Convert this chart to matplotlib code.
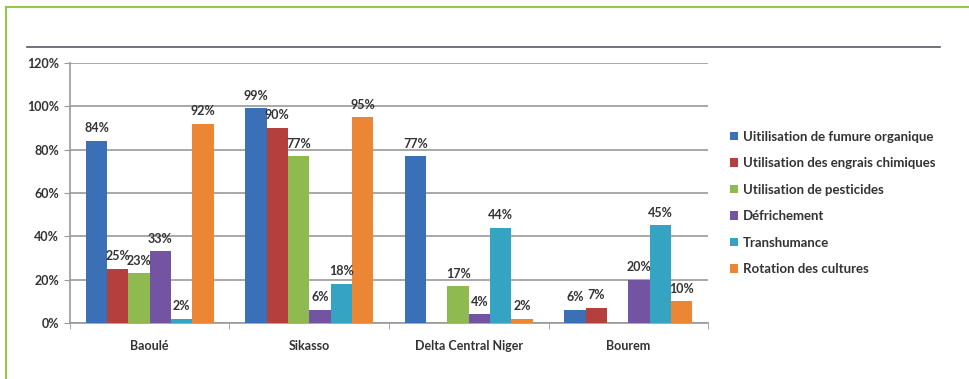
import numpy as np
import matplotlib.pyplot as plt
from matplotlib.lines import Line2D

plt.rcParams['font.family'] = ['Lato', 'DejaVu Sans']

# données (en %)
zones = ['Baoulé', 'Sikasso', 'Delta Central Niger', 'Bourem']
series = ['Uitilisation de fumure organique',
          'Utilisation des engrais chimiques',
          'Utilisation de pesticides',
          'Défrichement',
          'Transhumance',
          'Rotation des cultures']
fumure = [84, 99, 77, 6]
engrais = [25, 90, 0, 7]
pesticides = [23, 77, 17, 0]
defrichement = [33, 6, 4, 20]
transhumance = [2, 18, 44, 45]
rotation = [92, 95, 2, 10]
yticks = [0, 20, 40, 60, 80, 100, 120]

colors = ['#3b6fb6', '#b3403d', '#8fba4f', '#7254a2', '#35a4c2', '#ec8534']
values = [fumure, engrais, pesticides, defrichement, transhumance, rotation]

fig = plt.figure(figsize=(9.69, 3.79), dpi=100)
ax = fig.add_axes([0.0722, 0.1478, 0.6585, 0.686])

x = np.arange(len(zones))
w = 0.8 / len(series)
txt = '#333333'
for i, (name, vals) in enumerate(zip(series, values)):
    pos = x - 0.4 + w * (i + 0.5)
    v = np.array(vals) / 100
    ax.bar(pos, v, w, color=colors[i], label=name, zorder=3)
    for px, val in zip(pos, vals):
        if val > 0:
            ax.text(px, val / 100 + 0.03, f'{val}%', ha='center', va='bottom',
                    fontsize=9, color=txt, fontweight='bold', zorder=4)

ax.set_xlim(-0.5, len(zones) - 0.5)
ax.set_ylim(0, 1.2)
ax.set_yticks([t / 100 for t in yticks])
ax.set_yticklabels([f'{t}%' for t in yticks], fontsize=9, color=txt, fontweight='bold')
ax.set_xticks(x)
ax.set_xticklabels(zones, fontsize=9, color=txt, fontweight='bold')
ax.set_xticks(np.arange(len(zones) + 1) - 0.5, minor=True)
ax.tick_params(axis='x', which='major', length=0, pad=12)
ax.tick_params(axis='x', which='minor', length=4, color='#999999')
ax.tick_params(axis='y', length=4, color='#999999', pad=4)
ax.grid(axis='y', color='#9a9a9a', linewidth=1.2, zorder=0)
for s in ['top', 'right']:
    ax.spines[s].set_visible(False)
for s in ['left', 'bottom']:
    ax.spines[s].set_color('#999999')
    ax.spines[s].set_linewidth(1.2)

leg = fig.legend(loc='upper left', bbox_to_anchor=(0.753, 0.655), frameon=False,
                 fontsize=9.5, handlelength=0.6, handleheight=0.6, handletextpad=0.4,
                 labelspacing=1.1, borderaxespad=0, borderpad=0)
for t in leg.get_texts():
    t.set_color(txt)
    t.set_fontweight('bold')

# cadre vert et ligne de titre
fig.add_artist(Line2D([6 / 969, 6 / 969], [0, 1 - 7 / 379], color='#95c84a', lw=1.5))
fig.add_artist(Line2D([6 / 969, 1], [1 - 7 / 379, 1 - 7 / 379], color='#95c84a', lw=1.5))
fig.add_artist(Line2D([27 / 969, 940 / 969], [1 - 47 / 379, 1 - 47 / 379], color='#555a66', lw=1.2))

fig.savefig('out.png', dpi=100)
